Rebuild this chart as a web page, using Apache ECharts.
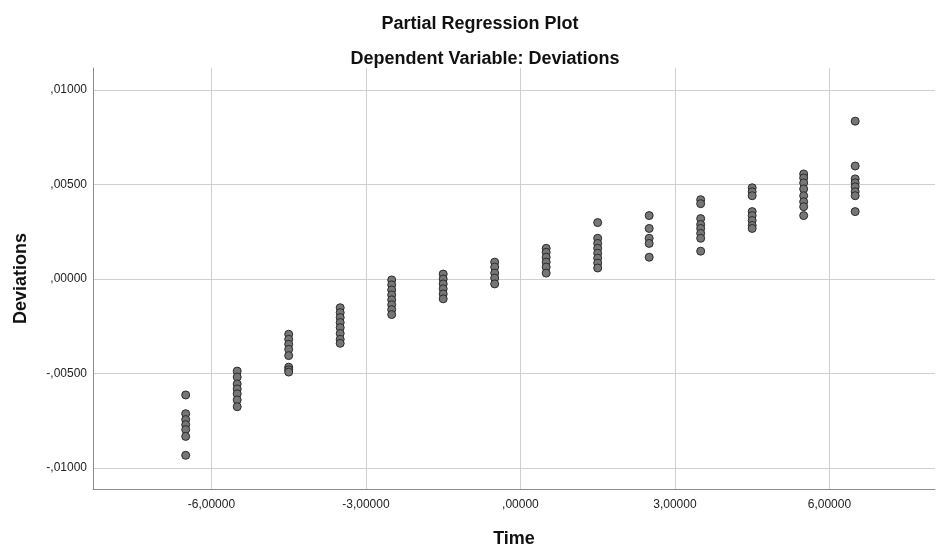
<!DOCTYPE html>
<html>
<head>
<meta charset="utf-8">
<script src="https://cdn.jsdelivr.net/npm/echarts@6/dist/echarts.min.js"></script>
<style>
html,body{margin:0;padding:0;background:#fff;}
#chart{width:944px;height:553px;}
</style>
</head>
<body>
<div id="chart"></div>
<script>
// Time positions of the point columns
const timeValues = [-6.5, -5.5, -4.5, -3.5, -2.5, -1.5, -0.5, 0.5, 1.5, 2.5, 3.5, 4.5, 5.5, 6.5];
// Deviations read per column
const devM65 = [-0.00613, -0.00712, -0.00743, -0.00770, -0.00796, -0.00832, -0.00932];
const devM55 = [-0.00487, -0.00518, -0.00555, -0.00581, -0.00607, -0.00639, -0.00675];
const devM45 = [-0.00292, -0.00319, -0.00345, -0.00372, -0.00405, -0.00466, -0.00480, -0.00492];
const devM35 = [-0.00152, -0.00178, -0.00204, -0.00230, -0.00257, -0.00288, -0.00319, -0.00340];
const devM25 = [-0.00005, -0.00031, -0.00058, -0.00084, -0.00110, -0.00136, -0.00162, -0.00188];
const devM15 = [0.00026, 0.00000, -0.00026, -0.00052, -0.00079, -0.00105];
const devM05 = [0.00089, 0.00063, 0.00031, 0.00005, -0.00026];
const devP05 = [0.00162, 0.00141, 0.00115, 0.00089, 0.00063, 0.00031];
const devP15 = [0.00298, 0.00215, 0.00188, 0.00162, 0.00136, 0.00110, 0.00084, 0.00058];
const devP25 = [0.00335, 0.00267, 0.00215, 0.00188, 0.00115];
const devP35 = [0.00419, 0.00398, 0.00319, 0.00288, 0.00267, 0.00241, 0.00215, 0.00147];
const devP45 = [0.00482, 0.00461, 0.00440, 0.00356, 0.00335, 0.00309, 0.00283, 0.00267];
const devP55 = [0.00555, 0.00534, 0.00508, 0.00476, 0.00440, 0.00408, 0.00382, 0.00335];
const devP65 = [0.00834, 0.00597, 0.00529, 0.00508, 0.00487, 0.00461, 0.00440, 0.00356];

// Tick values and labels
const xTicks = [-6, -3, 0, 3, 6];
const xTickLabels = ['-6,00000', '-3,00000', ',00000', '3,00000', '6,00000'];
const yTicks = [-0.01, -0.005, 0, 0.005, 0.01];
const yTickLabels = ['-,01000', '-,00500', ',00000', ',00500', ',01000'];

const columns = [devM65, devM55, devM45, devM35, devM25, devM15, devM05, devP05, devP15, devP25, devP35, devP45, devP55, devP65];
const points = [];
columns.forEach((col, i) => col.forEach(v => points.push([timeValues[i], v])));

function labelFor(ticks, labels, v) {
  for (let i = 0; i < ticks.length; i++) {
    if (Math.abs(ticks[i] - v) < 1e-9) return labels[i];
  }
  return '';
}

const chart = echarts.init(document.getElementById('chart'), null, {renderer: 'canvas'});
chart.setOption({
  backgroundColor: '#ffffff',
  animation: false,
  textStyle: {fontFamily: 'Liberation Sans, Arial, sans-serif'},
  title: [
    {text: 'Partial Regression Plot', left: 475, top: 10, textAlign: 'center',
     textStyle: {fontSize: 18, fontWeight: 'bold', color: '#111', fontFamily: 'Liberation Sans'}},
    {text: 'Dependent Variable: Deviations', left: 480, top: 45, textAlign: 'center',
     textStyle: {fontSize: 18, fontWeight: 'bold', color: '#111', fontFamily: 'Liberation Sans'}}
  ],
  grid: {left: 93, top: 68, right: 9, bottom: 60, containLabel: false},
  xAxis: {
    type: 'value', min: -8.3, max: 8.05,
    name: 'Time', nameLocation: 'middle', nameGap: 41,
    nameTextStyle: {fontSize: 18, fontWeight: 'bold', color: '#111'},
    axisLine: {show: true, onZero: false, lineStyle: {color: '#8c8c8c', width: 1}},
    axisTick: {show: false, customValues: xTicks},
    axisLabel: {customValues: xTicks, fontSize: 12, color: '#222', margin: 10,
      formatter: v => labelFor(xTicks, xTickLabels, v)},
    splitLine: {show: true, lineStyle: {color: '#cfcfcf', width: 1}}
  },
  yAxis: {
    type: 'value', min: -0.0111, max: 0.01115,
    name: 'Deviations', nameLocation: 'middle', nameGap: 63, nameRotate: 90,
    nameTextStyle: {fontSize: 18, fontWeight: 'bold', color: '#111'},
    axisLine: {show: true, onZero: false, lineStyle: {color: '#8c8c8c', width: 1}},
    axisTick: {show: false, customValues: yTicks},
    axisLabel: {customValues: yTicks, fontSize: 12, color: '#222', margin: 6,
      formatter: v => labelFor(yTicks, yTickLabels, v)},
    splitLine: {show: true, lineStyle: {color: '#cfcfcf', width: 1}}
  },
  series: [{
    type: 'scatter',
    data: points,
    symbol: 'circle',
    symbolSize: 8,
    itemStyle: {color: '#767676', borderColor: '#2a2a2a', borderWidth: 1, opacity: 1}
  }]
});
</script>
</body>
</html>
